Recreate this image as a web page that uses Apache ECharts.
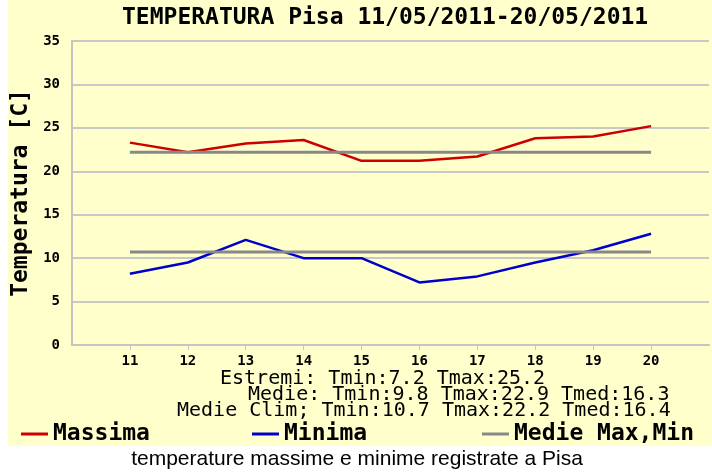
<!DOCTYPE html>
<html>
<head>
<meta charset="utf-8">
<script src="https://cdn.jsdelivr.net/npm/echarts@6/dist/echarts.min.js"></script>
<style>
  html, body { margin: 0; padding: 0; background: #ffffff; }
  #chart { width: 712px; height: 473px; }
</style>
</head>
<body>
<div id="chart"></div>
<script>
// Daily temperatures, Pisa, 11-20 May 2011
const days = [11, 12, 13, 14, 15, 16, 17, 18, 19, 20];
const massima = [23.3, 22.2, 23.2, 23.6, 21.2, 21.2, 21.7, 23.8, 24.0, 25.2];
const minima = [8.2, 9.5, 12.1, 10.0, 10.0, 7.2, 7.9, 9.5, 10.9, 12.8];

// Climatological means (horizontal reference lines)
const climTmin = 10.7;
const climTmax = 22.2;
const climTmed = 16.4;

// Period means
const medieTmin = 9.8;
const medieTmax = 22.9;
const medieTmed = 16.3;

const yTicks = [0, 5, 10, 15, 20, 25, 30, 35];

const MONO = '"DejaVu Sans Mono", monospace';
const SANS = '"Liberation Sans", Arial, sans-serif';

const tMinAll = Math.min.apply(null, minima);
const tMaxAll = Math.max.apply(null, massima);

const statLines = [
  { text: 'Estremi: Tmin:' + tMinAll.toFixed(1) + ' Tmax:' + tMaxAll.toFixed(1), x: 220, y: 379 },
  { text: 'Medie: Tmin:' + medieTmin.toFixed(1) + ' Tmax:' + medieTmax.toFixed(1) + ' Tmed:' + medieTmed.toFixed(1), x: 248, y: 395 },
  { text: 'Medie Clim; Tmin:' + climTmin.toFixed(1) + ' Tmax:' + climTmax.toFixed(1) + ' Tmed:' + climTmed.toFixed(1), x: 177, y: 411 }
];

const chart = echarts.init(document.getElementById('chart'), null, { renderer: 'canvas' });

const legendBase = {
  padding: 0,
  top: 422,
  icon: 'rect',
  itemWidth: 27,
  itemHeight: 3,
  selectedMode: false,
  textStyle: { fontFamily: MONO, fontWeight: 'bold', fontSize: 23, color: '#000', lineHeight: 24 }
};

const option = {
  animation: false,
  backgroundColor: '#ffffff',
  title: {
    text: 'TEMPERATURA Pisa 11/05/2011-20/05/2011',
    left: 122,
    top: 6,
    padding: 0,
    textStyle: { fontFamily: MONO, fontWeight: 'bold', fontSize: 23, color: '#000', lineHeight: 24 }
  },
  legend: [
    Object.assign({}, legendBase, { left: 21, data: ['Massima'] }),
    Object.assign({}, legendBase, { left: 252, data: ['Minima'] }),
    Object.assign({}, legendBase, { left: 482, data: ['Medie Max,Min'] })
  ],
  grid: { left: 72, right: 3, top: 41, bottom: 128, containLabel: false },
  xAxis: {
    type: 'value',
    min: 10,
    max: 21,
    interval: 1,
    axisLine: { show: true, lineStyle: { color: '#c4c4c4', width: 2 } },
    axisTick: { show: true, customValues: days, length: 5, lineStyle: { color: '#c4c4c4', width: 1 } },
    axisLabel: {
      customValues: days,
      margin: 9,
      fontFamily: MONO, fontWeight: 'bold', fontSize: 14, color: '#000'
    },
    splitLine: { show: false }
  },
  yAxis: {
    type: 'value',
    min: 0,
    max: 35,
    interval: 5,
    name: 'Temperatura [C]',
    nameLocation: 'middle',
    nameGap: 35,
    nameTextStyle: { fontFamily: MONO, fontWeight: 'bold', fontSize: 23, color: '#000' },
    axisLine: { show: true, lineStyle: { color: '#c4c4c4', width: 2 } },
    axisTick: { show: false },
    axisLabel: { margin: 12, fontFamily: MONO, fontWeight: 'bold', fontSize: 14, color: '#000' },
    splitLine: { show: true, lineStyle: { color: '#c8c8c8', width: 2 } }
  },
  series: [
    {
      name: 'Massima', type: 'line', symbol: 'none', z: 2,
      lineStyle: { color: '#cc0000', width: 2.5 }, itemStyle: { color: '#cc0000' },
      data: days.map((d, i) => [d, massima[i]])
    },
    {
      name: 'Minima', type: 'line', symbol: 'none', z: 2,
      lineStyle: { color: '#0000cc', width: 2.5 }, itemStyle: { color: '#0000cc' },
      data: days.map((d, i) => [d, minima[i]])
    },
    {
      name: 'Medie Max,Min', type: 'line', symbol: 'none', z: 3,
      lineStyle: { color: '#888888', width: 3 }, itemStyle: { color: '#888888' },
      data: [[days[0], climTmax], [days[days.length - 1], climTmax]]
    },
    {
      name: 'Medie Max,Min', type: 'line', symbol: 'none', z: 3,
      lineStyle: { color: '#888888', width: 3 }, itemStyle: { color: '#888888' },
      data: [[days[0], climTmin], [days[days.length - 1], climTmin]]
    }
  ],
  graphic: [
    {
      type: 'rect', z: -10, silent: true,
      shape: { x: 8, y: 0, width: 704, height: 446 },
      style: { fill: '#ffffcc' }
    },
    ...statLines.map(l => ({
      type: 'text', silent: true,
      style: { x: l.x, y: l.y, text: l.text, font: '20px ' + MONO, fill: '#000', verticalAlign: 'middle', textVerticalAlign: 'middle' }
    })),
    {
      type: 'text', silent: true,
      style: {
        x: 357, y: 459, text: 'temperature massime e minime registrate a Pisa',
        font: '21px ' + SANS, fill: '#000', align: 'center', textAlign: 'center', verticalAlign: 'middle', textVerticalAlign: 'middle'
      }
    }
  ]
};

chart.setOption(option);
</script>
</body>
</html>
